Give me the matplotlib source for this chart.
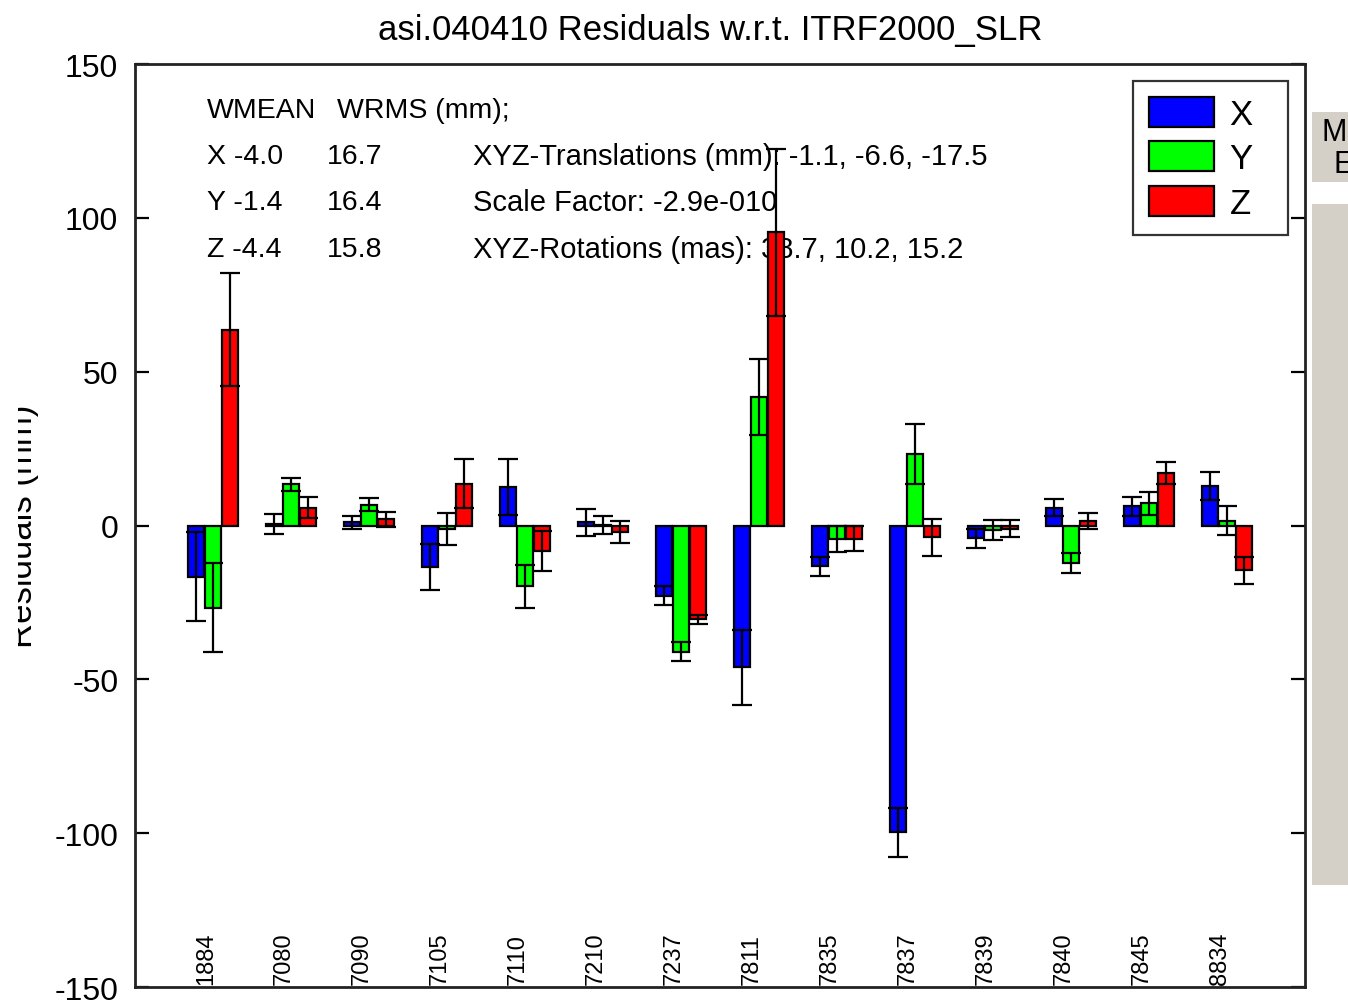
import matplotlib
matplotlib.use("Agg")
import matplotlib.pyplot as plt
import numpy as np
from matplotlib.patches import Rectangle
from matplotlib import font_manager

# ---- data ----
stations = ['1884', '7080', '7090', '7105', '7110', '7210', '7237',
            '7811', '7835', '7837', '7839', '7840', '7845', '8834']
res_x = [-16.6, 0.4, 1.0, -13.5, 12.5, 1.0, -22.8, -46.1, -13.2, -99.7, -4.2, 5.8, 6.3, 12.8]
err_x = [14.5, 3.2, 2.2, 7.5, 9.2, 4.5, 3.1, 12.2, 3.1, 7.9, 3.1, 2.7, 3.1, 4.5]
res_y = [-26.7, 13.4, 6.8, -1.2, -19.8, 0.1, -41.1, 41.7, -4.3, 23.3, -1.5, -12.1, 7.2, 1.5]
err_y = [14.4, 2.2, 2.2, 5.3, 7.0, 3.0, 3.1, 12.3, 4.2, 9.7, 3.3, 3.2, 3.8, 4.7]
res_z = [63.6, 5.8, 2.0, 13.6, -8.3, -2.1, -30.5, 95.3, -4.3, -3.9, -1.0, 1.4, 17.0, -14.5]
err_z = [18.4, 3.5, 2.5, 7.9, 6.4, 3.5, 1.5, 27.1, 4.0, 6.1, 2.8, 2.7, 3.6, 4.4]
series_names = ['X', 'Y', 'Z']
series_colors = ['#0000FF', '#00FF00', '#FF0000']
yticks = [150, 100, 50, 0, -50, -100, -150]

stats_rows = [('WMEAN', 'WRMS (mm);'), ('X -4.0', '16.7'), ('Y -1.4', '16.4'), ('Z -4.4', '15.8')]
trans_rows = ['XYZ-Translations (mm): -1.1, -6.6, -17.5',
              'Scale Factor: -2.9e-010',
              'XYZ-Rotations (mas): 38.7, 10.2, 15.2']
title = 'asi.040410 Residuals w.r.t. ITRF2000_SLR'

# ---- fonts ----
names = {f.name for f in font_manager.fontManager.ttflist}
fam = ['Liberation Sans Narrow'] if 'Liberation Sans Narrow' in names else ['Liberation Sans']
plt.rcParams['font.family'] = fam + ['DejaVu Sans']
plt.rcParams['axes.unicode_minus'] = False

W, H = 1348, 1003
fig = plt.figure(figsize=(W / 100, H / 100), dpi=100)
fig.patch.set_facecolor('white')
ax = fig.add_axes([135 / W, (H - 988) / H, 1170 / W, (988 - 65) / H])

x = np.arange(1, len(stations) + 1)
bw = 0.21
offs = [-0.215, 0.0, 0.215]
handles = []
for vals, errs, off, c, nm in zip([res_x, res_y, res_z], [err_x, err_y, err_z], offs,
                                  series_colors, series_names):
    b = ax.bar(x + off, vals, width=bw, color=c, edgecolor='black', linewidth=1.6,
               zorder=2, label=nm)
    handles.append(b)
    ax.errorbar(x + off, vals, yerr=errs, fmt='none', ecolor='black', elinewidth=1.6,
                capsize=7, capthick=1.6, zorder=3)

ax.set_xlim(0, 15)
ax.set_ylim(-150, 150)
ax.set_xticks([])
ax.set_yticks(yticks)
ax.tick_params(axis='y', direction='in', length=10, width=1.6, labelsize=23, pad=12,
               left=True, right=True)
for s in ax.spines.values():
    s.set_linewidth(2)
    s.set_color('#222222')

for xi, st in zip(x, stations):
    ax.text(xi - 0.09, -149, st, rotation=90, ha='center', va='bottom', fontsize=17, zorder=1)

rows_y = [135, 120, 105, 90]
for ry, (a, b) in zip(rows_y, stats_rows):
    ax.text(0.92, ry, a, fontsize=20.5, va='center', ha='left', zorder=1)
    ax.text(2.46 if b[0].isdigit() else 2.59, ry, b, fontsize=20.5, va='center', ha='left', zorder=1)
for ry, t in zip(rows_y[1:], trans_rows):
    ax.text(4.33, ry, t, fontsize=21, va='center', ha='left', zorder=1)

ax.set_title(title, fontsize=25, pad=18, x=0.492)
ax.set_ylabel('Residuals (mm)', fontsize=25)
ax.yaxis.set_label_coords(-0.082, 0.5)

leg = ax.legend(handles=handles, labels=[n + '  ' for n in series_names], loc='upper right',
                fontsize=25, frameon=True, fancybox=False, shadow=False, edgecolor='black',
                handlelength=1.87, handleheight=0.95, handletextpad=0.45,
                labelspacing=0.3, borderpad=0.45, borderaxespad=0.5)
leg.get_frame().set_linewidth(1.6)

# white mask clipping left side of the ylabel, and GUI gray panels on the right
fig.patches.append(Rectangle((0, 0), 18 / W, 1, transform=fig.transFigure,
                             facecolor='white', edgecolor='none', zorder=10))
gray = '#D4D0C8'
fig.patches.append(Rectangle((1312 / W, (H - 183) / H), 40 / W, 70 / H, transform=fig.transFigure,
                             facecolor=gray, edgecolor='none', zorder=1))
fig.patches.append(Rectangle((1312 / W, (H - 886) / H), 40 / W, 681 / H, transform=fig.transFigure,
                             facecolor=gray, edgecolor='none', zorder=1))
fig.text(1322 / W, (H - 133) / H, 'M', fontsize=22, va='center', ha='left')
fig.text(1334 / W, (H - 165) / H, 'E', fontsize=22, va='center', ha='left')

fig.savefig('out.png', dpi=100, facecolor='white')
